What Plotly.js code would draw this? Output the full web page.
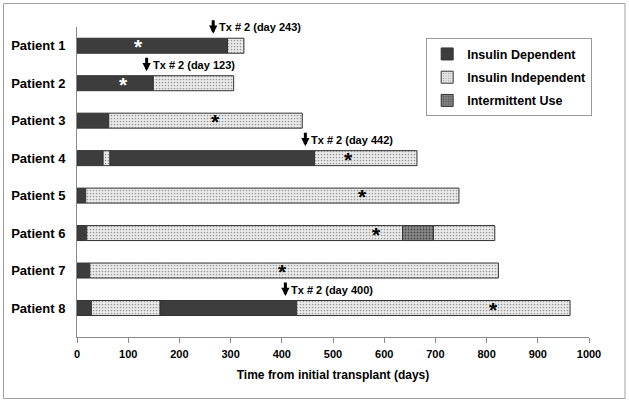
<!DOCTYPE html>
<html>
<head>
<meta charset="utf-8">
<script src="https://cdn.plot.ly/plotly-3.0.1.min.js"></script>
<style>html,body{margin:0;padding:0;background:#fff;}#chart{width:629px;height:403px;}</style>
</head>
<body>
<div id="chart"></div>
<script>
// ---- data ----
const patients = ['Patient 1','Patient 2','Patient 3','Patient 4','Patient 5','Patient 6','Patient 7','Patient 8'];
// segment kinds per patient: D = insulin dependent, I = insulin independent, M = intermittent use
const segKinds = [
  ['D','I'],
  ['D','I'],
  ['D','I'],
  ['D','I','D','I'],
  ['D','I'],
  ['D','I','M','I'],
  ['D','I'],
  ['D','I','D','I']
];
// segment end days per patient
const segEnds = [
  [294, 326],
  [149, 306],
  [62, 440],
  [51, 64, 464, 664],
  [17, 746],
  [19, 636, 696, 816],
  [25, 823],
  [28, 162, 429, 963]
];
const kindNames = {D: 'Insulin Dependent', I: 'Insulin Independent', M: 'Intermittent Use'};
// second transplant markers
const txPatients = ['Patient 1','Patient 2','Patient 4','Patient 8'];
const txArrowX = [266, 136, 446, 407];
const txDays = [243, 123, 442, 400];
// asterisks
const starX = [121, 91, 271, 530, 557, 585, 402, 813];
const starColors = ['#ffffff','#ffffff','#000000','#000000','#000000','#000000','#000000','#000000'];

// ---- build traces ----
const FONT = 'Arial, "Liberation Sans", sans-serif';
const styles = {
  D: {color: '#3d3d3d'},
  I: {color: '#e6e6e6', pattern: {shape: '.', fgcolor: '#9a9a9a', bgcolor: '#ececec', size: 3, solidity: 0.25}},
  M: {color: '#7a7a7a', pattern: {shape: '.', fgcolor: '#4a4a4a', bgcolor: '#8c8c8c', size: 3, solidity: 0.35}}
};
const traces = ['D','I','M'].map((k, gi) => {
  const y = [], base = [], x = [];
  patients.forEach((p, i) => {
    let start = 0;
    segEnds[i].forEach((end, j) => {
      if (segKinds[i][j] === k) { y.push(p); base.push(start); x.push(end - start); }
      start = end;
    });
  });
  const marker = {color: styles[k].color, line: {color: '#333333', width: 1}};
  if (styles[k].pattern) marker.pattern = styles[k].pattern;
  return {type: 'bar', orientation: 'h', name: kindNames[k], legendgroup: 'g' + gi,
          y: y, x: x, base: base, width: 0.4, marker: marker, hoverinfo: 'skip'};
});

const annotations = [];
txPatients.forEach((p, i) => {
  annotations.push({x: txArrowX[i], y: p, xref: 'x', yref: 'y', text: '', showarrow: true,
    ax: 0, ay: -27, arrowhead: 2, arrowsize: 0.55, arrowwidth: 3, arrowcolor: '#000', standoff: 12});
  annotations.push({x: txArrowX[i], y: p, xref: 'x', yref: 'y', text: 'Tx # 2 (day ' + txDays[i] + ')',
    showarrow: false, xanchor: 'left', xshift: 4, yshift: 18.5,
    font: {family: FONT, size: 11, color: '#000', weight: 'bold'}});
});
patients.forEach((p, i) => {
  annotations.push({x: starX[i], y: p, xref: 'x', yref: 'y', text: '*', showarrow: false,
    yshift: -1, font: {family: FONT, size: 21, color: starColors[i], weight: 'bold'}});
});

const layout = {
  width: 629, height: 403,
  margin: {l: 77, r: 40, t: 27, b: 66},
  paper_bgcolor: '#ffffff', plot_bgcolor: '#ffffff',
  barmode: 'overlay',
  showlegend: true,
  legend: {x: 0.682, y: 0.9635, xanchor: 'left', yanchor: 'top', bgcolor: '#fff',
    bordercolor: '#9a9a9a', borderwidth: 1, tracegroupgap: 4,
    font: {family: FONT, size: 12.5, color: '#000', weight: 'bold'}},
  xaxis: {range: [0, 1000], dtick: 100, tick0: 0, showgrid: false, zeroline: false,
    showline: true, linecolor: '#8a8a8a', linewidth: 1, ticks: 'outside', ticklen: 5, tickcolor: '#8a8a8a',
    ticklabelstandoff: 2,
    tickfont: {family: FONT, size: 11, color: '#000', weight: 'bold'},
    title: {text: 'Time from initial transplant (days)', standoff: 11,
      font: {family: FONT, size: 12, color: '#000', weight: 'bold'}}},
  yaxis: {type: 'category', categoryorder: 'array', categoryarray: patients, autorange: 'reversed',
    showgrid: false, zeroline: false, showline: true, linecolor: '#8a8a8a', linewidth: 1, ticks: '',
    ticklabelstandoff: 8,
    tickfont: {family: FONT, size: 13, color: '#000', weight: 'bold'}},
  annotations: annotations,
  shapes: [{type: 'rect', xref: 'paper', yref: 'paper',
    x0: (3.5 - 77) / 512, x1: (625 - 77) / 512, y0: (337 - 398.5) / 310, y1: (337 - 3.5) / 310,
    line: {color: '#a0a0a0', width: 1}, fillcolor: 'rgba(0,0,0,0)'}]
};

Plotly.newPlot('chart', traces, layout, {displayModeBar: false, staticPlot: true});
</script>
</body>
</html>
